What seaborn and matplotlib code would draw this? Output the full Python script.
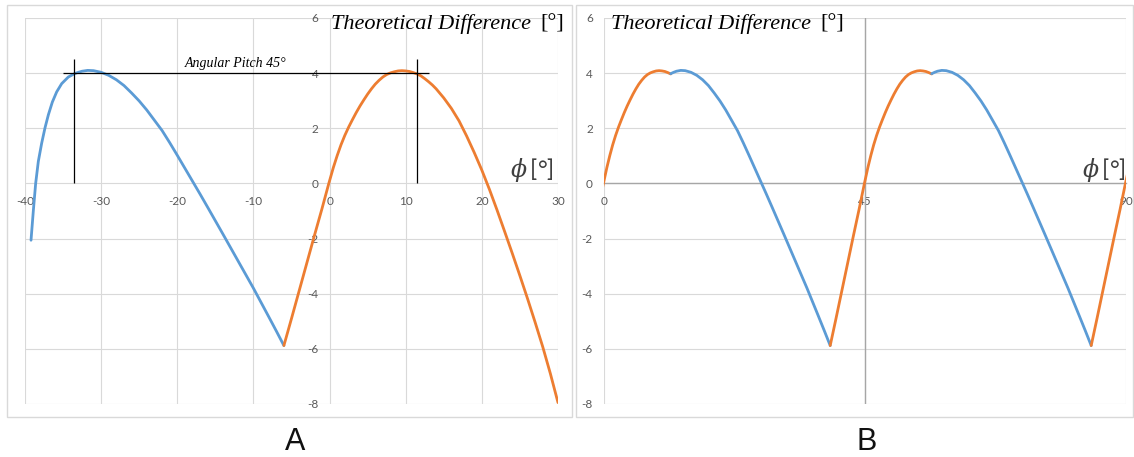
import numpy as np
import pandas as pd
import matplotlib
matplotlib.use("Agg")
import matplotlib.pyplot as plt
import seaborn as sns
from matplotlib.patches import Rectangle

blue_phi = [-39.21, -38.9, -38.6, -38.25, -37.81, -37.37, -36.93, -36.41, -35.84, -35.18,
            -34.31, -33.5, -33.0, -32.5, -31.76, -31.0, -30.0, -29.0, -28.0, -27.0,
            -26.0, -25.0, -24.0, -23.0, -22.0, -21.0, -20.0, -19.0, -18.0, -17.0,
            -16.0, -14.0, -12.0, -10.0, -8.0, -7.0, -6.0]
blue_diff = [-2.06, -0.97, 0.0, 0.8, 1.46, 2.02, 2.49, 2.95, 3.32, 3.62,
             3.86, 3.98, 4.03, 4.07, 4.10, 4.09, 4.03, 3.92, 3.76, 3.55,
             3.28, 2.99, 2.66, 2.29, 1.92, 1.48, 1.02, 0.55, 0.08, -0.39,
             -0.87, -1.84, -2.82, -3.80, -4.83, -5.35, -5.88]

orange_phi = [-6.0, -5.0, -4.0, -3.0, -2.0, -1.0, -0.1, 0.5, 1.0, 1.5,
              2.0, 2.5, 3.0, 3.5, 4.0, 4.5, 5.0, 5.5, 6.0, 6.5,
              7.0, 7.5, 8.0, 8.5, 9.0, 9.5, 10.0, 10.5, 11.0, 11.5,
              12.0, 12.5, 13.0, 13.5, 14.0, 15.0, 16.0, 17.0, 18.0, 19.0,
              20.0, 21.0, 22.0, 23.0, 24.0, 25.0, 26.0, 27.0, 28.0, 29.0, 30.0]
orange_diff = [-5.88, -4.9, -3.9, -2.9, -1.9, -0.92, 0.0, 0.58, 1.01, 1.40,
               1.74, 2.04, 2.31, 2.57, 2.81, 3.03, 3.24, 3.43, 3.60, 3.74,
               3.86, 3.95, 4.01, 4.05, 4.08, 4.09, 4.08, 4.06, 4.02, 3.97,
               3.90, 3.80, 3.69, 3.57, 3.43, 3.10, 2.72, 2.27, 1.72, 1.12,
               0.48, -0.22, -0.97, -1.75, -2.54, -3.35, -4.18, -5.04, -5.93, -6.9, -7.95]

# angular pitch markers (chart A)
pitch = 45
pitch_marks = [-33.5, 11.5]       # phi where the two curves cross the 4 deg level
pitch_level = 4.0
pitch_line_span = [-35.0, 13.1]
pitch_mark_top = 4.5

# ticks
xticks_A = [-40, -30, -20, -10, 0, 10, 20, 30]
xticks_B = [0, 45, 90]
yticks = [-8, -6, -4, -2, 0, 2, 4, 6]

BLUE = "#5B9BD5"
ORANGE = "#ED7D31"
GRID = "#D9D9D9"
TICKC = "#595959"

dfA_blue = pd.DataFrame({"phi": blue_phi, "diff": blue_diff})
dfA_orange = pd.DataFrame({"phi": orange_phi, "diff": orange_diff})

# chart B: periodic envelope of chart A's curves, repeated every pitch (45 deg)
orange_period = dfA_orange[dfA_orange.phi <= pitch_marks[1]]
blue_period = dfA_blue[dfA_blue.phi >= pitch_marks[0]]

sns.set_theme(style="white")
plt.rcParams["font.family"] = ["Lato", "DejaVu Sans"]
plt.rcParams["mathtext.fontset"] = "dejavuserif"
plt.rcParams["axes.unicode_minus"] = False

W, H = 1134, 457
fig = plt.figure(figsize=(W / 100, H / 100), dpi=100)


def px_axes(l, t, r, b):
    return fig.add_axes([l / W, 1 - b / H, (r - l) / W, (b - t) / H])


axA = px_axes(25, 18, 558, 404)
axB = px_axes(604, 18, 1126, 404)

# chart-area frames
for (l, t, r, b) in [(7, 5, 572, 417), (576, 5, 1133, 417)]:
    fig.add_artist(Rectangle((l / W, 1 - b / H), (r - l) / W, (b - t) / H,
                             transform=fig.transFigure, fill=False,
                             ec=GRID, lw=1.0))

LW = 2.0
SERIF = ["Liberation Serif", "DejaVu Serif"]

# ---------------- chart A ----------------
sns.lineplot(data=dfA_blue, x="phi", y="diff", ax=axA, color=BLUE, lw=LW,
             sort=False, estimator=None, zorder=3)
sns.lineplot(data=dfA_orange, x="phi", y="diff", ax=axA, color=ORANGE, lw=LW,
             sort=False, estimator=None, zorder=3)

axA.hlines(pitch_level, pitch_line_span[0], pitch_line_span[1], color="black", lw=0.9, zorder=4)
axA.vlines(pitch_marks, 0, pitch_mark_top, color="black", lw=0.9, zorder=4)
axA.text(sum(pitch_marks) / 2 - 1.3, pitch_level + 0.12, "Angular Pitch 45°",
         ha="center", va="bottom", fontsize=10, style="italic",
         family=SERIF, color="black")

axA.set_xlim(-40, 30)
axA.set_ylim(-8, 6)
axA.set_xticks(xticks_A)
axA.set_yticks(yticks)
axA.spines["left"].set_position(("data", 0))
axA.spines["bottom"].set_position(("data", 0))

# ---------------- chart B ----------------
for n in range(3):
    seg_o = orange_period.assign(phi=orange_period.phi + n * pitch)
    sns.lineplot(data=seg_o, x="phi", y="diff", ax=axB, color=ORANGE, lw=LW,
                 sort=False, estimator=None, zorder=3)
    seg_b = blue_period.assign(phi=blue_period.phi + (n + 1) * pitch)
    sns.lineplot(data=seg_b, x="phi", y="diff", ax=axB, color=BLUE, lw=LW,
                 sort=False, estimator=None, zorder=3)

axB.axvline(pitch, color="#A6A6A6", lw=1.0, zorder=2)
axB.set_xlim(0, 90)
axB.set_ylim(-8, 6)
axB.set_xticks(xticks_B)
axB.set_yticks(yticks)
axB.spines["bottom"].set_position(("data", 0))

for ax in (axA, axB):
    ax.set_xlabel("")
    ax.set_ylabel("")
    ax.grid(True, color=GRID, lw=0.8, zorder=0)
    ax.set_axisbelow(True)
    for s in ("top", "right", "left"):
        ax.spines[s].set_visible(False)
    ax.tick_params(axis="both", length=0, labelsize=8.5, labelcolor=TICKC)
    ax.tick_params(axis="y", pad=8)
    ax.tick_params(axis="x", pad=9)
    ax.set_facecolor("none")
    ax.text(0.999 if ax is axB else 0.992, 0.588, r"$\phi\,$[°]", transform=ax.transAxes,
            ha="right", va="baseline", fontsize=17, color="#404040")

axA.spines["bottom"].set_visible(False)
axB.spines["bottom"].set_color("#A6A6A6")
axB.spines["bottom"].set_linewidth(1.0)

for ax, left_px, ax_left, ax_w in ((axA, 331, 25, 533), (axB, 611, 604, 522)):
    t = ax.text((left_px - ax_left) / ax_w, 1 - (29 - 18) / 386, "Theoretical Difference",
                transform=ax.transAxes, ha="left", va="baseline", fontsize=16,
                style="italic", family=SERIF, color="black")
    ax.annotate("[°]", xy=(1, 0), xycoords=t, xytext=(7, 0), textcoords="offset points",
                ha="left", va="bottom", fontsize=16, family=SERIF, color="black")

for lab, xc in (("A", 295), ("B", 867)):
    fig.text(xc / W, 1 - 450 / H, lab, ha="center", va="baseline", fontsize=22,
             family=["Liberation Sans Narrow", "Liberation Sans", "DejaVu Sans"],
             color="#111111")

fig.savefig("out.png", dpi=100, facecolor="white")
